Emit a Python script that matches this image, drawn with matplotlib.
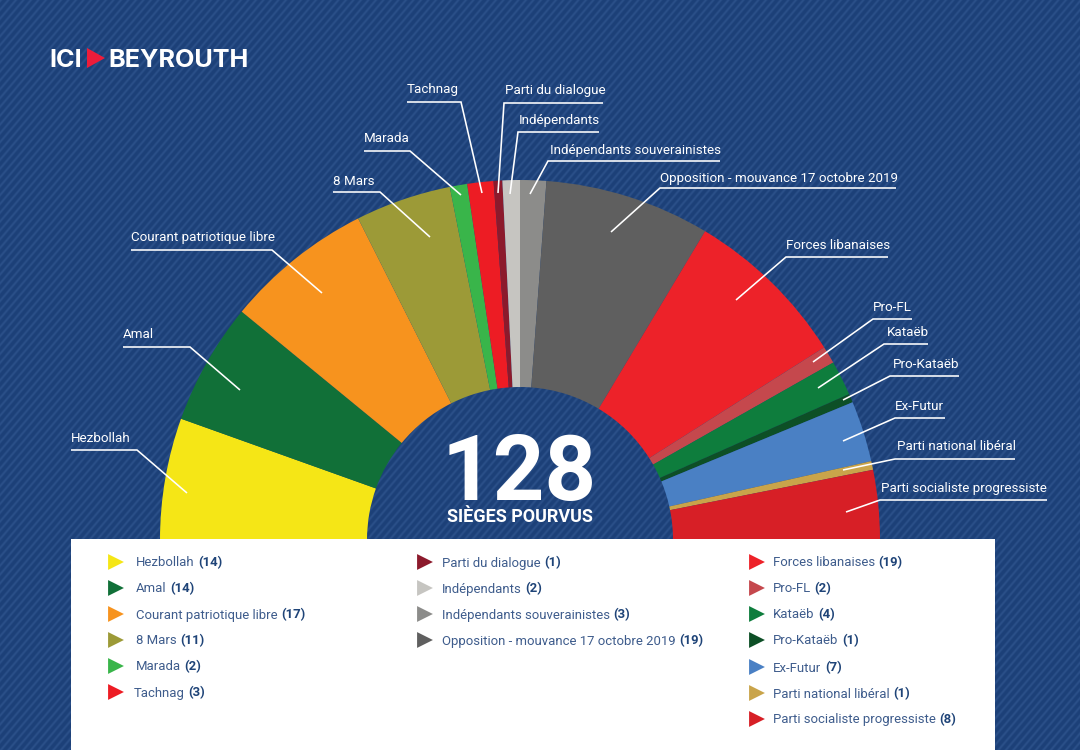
import numpy as np
import matplotlib
matplotlib.use("Agg")
import matplotlib.pyplot as plt
from matplotlib.colors import to_rgb
from matplotlib.patches import Rectangle, Polygon

parties = ["Hezbollah", "Amal", "Courant patriotique libre", "8 Mars", "Marada", "Tachnag",
           "Parti du dialogue", "Indépendants", "Indépendants souverainistes",
           "Opposition - mouvance 17 octobre 2019", "Forces libanaises", "Pro-FL", "Kataëb",
           "Pro-Kataëb", "Ex-Futur", "Parti national libéral", "Parti socialiste progressiste"]
seats = [14, 14, 17, 11, 2, 3, 1, 2, 3, 19, 19, 2, 4, 1, 7, 1, 8]
colors = ["#f5e616", "#117038", "#f7931e", "#9c9a37", "#39b54a", "#ed1c24",
          "#8c1a2c", "#c6c5c1", "#8c8c8a", "#5f5f5f", "#ed2229", "#c5484d", "#0e7d3d",
          "#0d4f26", "#4a80c4", "#c9a44a", "#d71f26"]

# leader line for each party: start, corner, end (pixels)
leaders = [[(71, 450), (137, 450), (187, 493)],
           [(123, 347), (190, 347), (240, 390)],
           [(131, 250), (272, 250), (322, 293)],
           [(333, 192), (380, 192), (430, 237)],
           [(364, 151), (410, 151), (461, 195)],
           [(407, 102), (461, 102), (482, 193)],
           [(603, 103), (504, 103), (498, 193)],
           [(599, 132), (518, 132), (510, 194)],
           [(720, 161), (548, 161), (530, 194)],
           [(896, 188), (660, 188), (611, 232)],
           [(888, 257), (786, 257), (736, 300)],
           [(912, 319), (873, 319), (813, 362)],
           [(928, 344), (884, 344), (818, 388)],
           [(959, 376), (890, 376), (843, 400)],
           [(945, 418), (895, 418), (843, 441)],
           [(1015, 459), (895, 459), (843, 470)],
           [(1047, 500), (880, 500), (846, 512)]]
label_x = [71, 123, 131, 333, 364, 407, 505, 519, 550, 660, 786, 873, 887, 893, 895, 897, 881]
label_y = [442, 338, 241, 185, 142, 93, 94, 124, 154, 182, 249, 311, 336, 368, 410, 450, 492]

legend_marker_x = [116] * 6 + [425] * 4 + [757] * 7
legend_text_x = [136, 136, 136, 136, 136, 134] + [442] * 4 + [773] * 7
legend_y = [562, 588, 614, 640, 666, 692, 562, 588, 614, 640, 562, 588, 614, 640, 667, 693, 719]

BG = "#1c4078"
STRIPE = "#2b5089"
NAVY = "#1f4478"
NAME = "#3e5c8c"
FONT = "Roboto"

fig = plt.figure(figsize=(10.8, 7.5), dpi=100)
ax = fig.add_axes([0, 0, 1, 1])

# striped background, soft edges like the original
yy, xx = np.mgrid[0:750, 0:1080]
wave = (0.5 + 0.5 * np.cos(2 * np.pi * (xx + yy * 0.85) / 7.5))[..., None] ** 2
bg = np.array(to_rgb(BG)) * (1 - wave) + np.array(to_rgb(STRIPE)) * wave
ax.imshow(bg, extent=(0, 1080, 750, 0), interpolation="nearest", zorder=0)

# half donut (y axis is inverted, so counterclock runs left -> top -> right on screen)
shares = [s / (2 * sum(seats)) for s in seats]
ax.pie(shares, colors=colors, normalize=False, startangle=180, counterclock=True,
       center=(520, 540), radius=360, frame=True,
       wedgeprops={"width": 207, "linewidth": 0, "zorder": 2})

ax.set_xlim(0, 1080)
ax.set_ylim(750, 0)
ax.set_aspect("auto")
ax.axis("off")

# white panel
ax.add_patch(Rectangle((71, 539), 924, 211, facecolor="white", edgecolor="none", zorder=3))

for name, path, x, y in zip(parties, leaders, label_x, label_y):
    px, py = zip(*path)
    ax.plot(px, py, color="white", lw=1.15, solid_capstyle="butt", solid_joinstyle="miter", zorder=4)
    ax.text(x, y, name, color="white", fontsize=9.6, family=FONT, va="baseline", zorder=5)

# centre text
ax.text(519, 500, "128", color="white", fontsize=65, family=FONT, weight="bold",
        ha="center", va="baseline", zorder=5)
ax.text(520, 522, "SIÈGES POURVUS", color="white", fontsize=13, family=FONT, weight="bold",
        ha="center", va="baseline", zorder=5)

# logo
ax.text(49, 67, "ICI", color="white", fontsize=18.2, family="Inter", weight="bold", va="baseline", zorder=5)
ax.add_patch(Polygon([(87, 48), (105, 58), (87, 68)], facecolor="#ed1c3a", edgecolor="none", zorder=5))
ax.text(108, 67, "BEYROUTH", color="white", fontsize=18.2, family="Inter", weight="bold", va="baseline", zorder=5)

# legend
renderer = fig.canvas.get_renderer()
ax.scatter(legend_marker_x, legend_y, marker=">", s=130, c=colors, linewidths=0, zorder=5)
for name, n, x, y in zip(parties, seats, legend_text_x, legend_y):
    t = ax.text(x, y + 4.5, name, color=NAME, fontsize=9.45, family=FONT, va="baseline", zorder=5)
    right = t.get_window_extent(renderer).x1
    ax.text(right + 3.5, y + 4.5, f"({n})", color=NAVY, fontsize=9.45, family=FONT, weight="bold",
            va="baseline", zorder=5)

fig.savefig("out.png", dpi=100)
